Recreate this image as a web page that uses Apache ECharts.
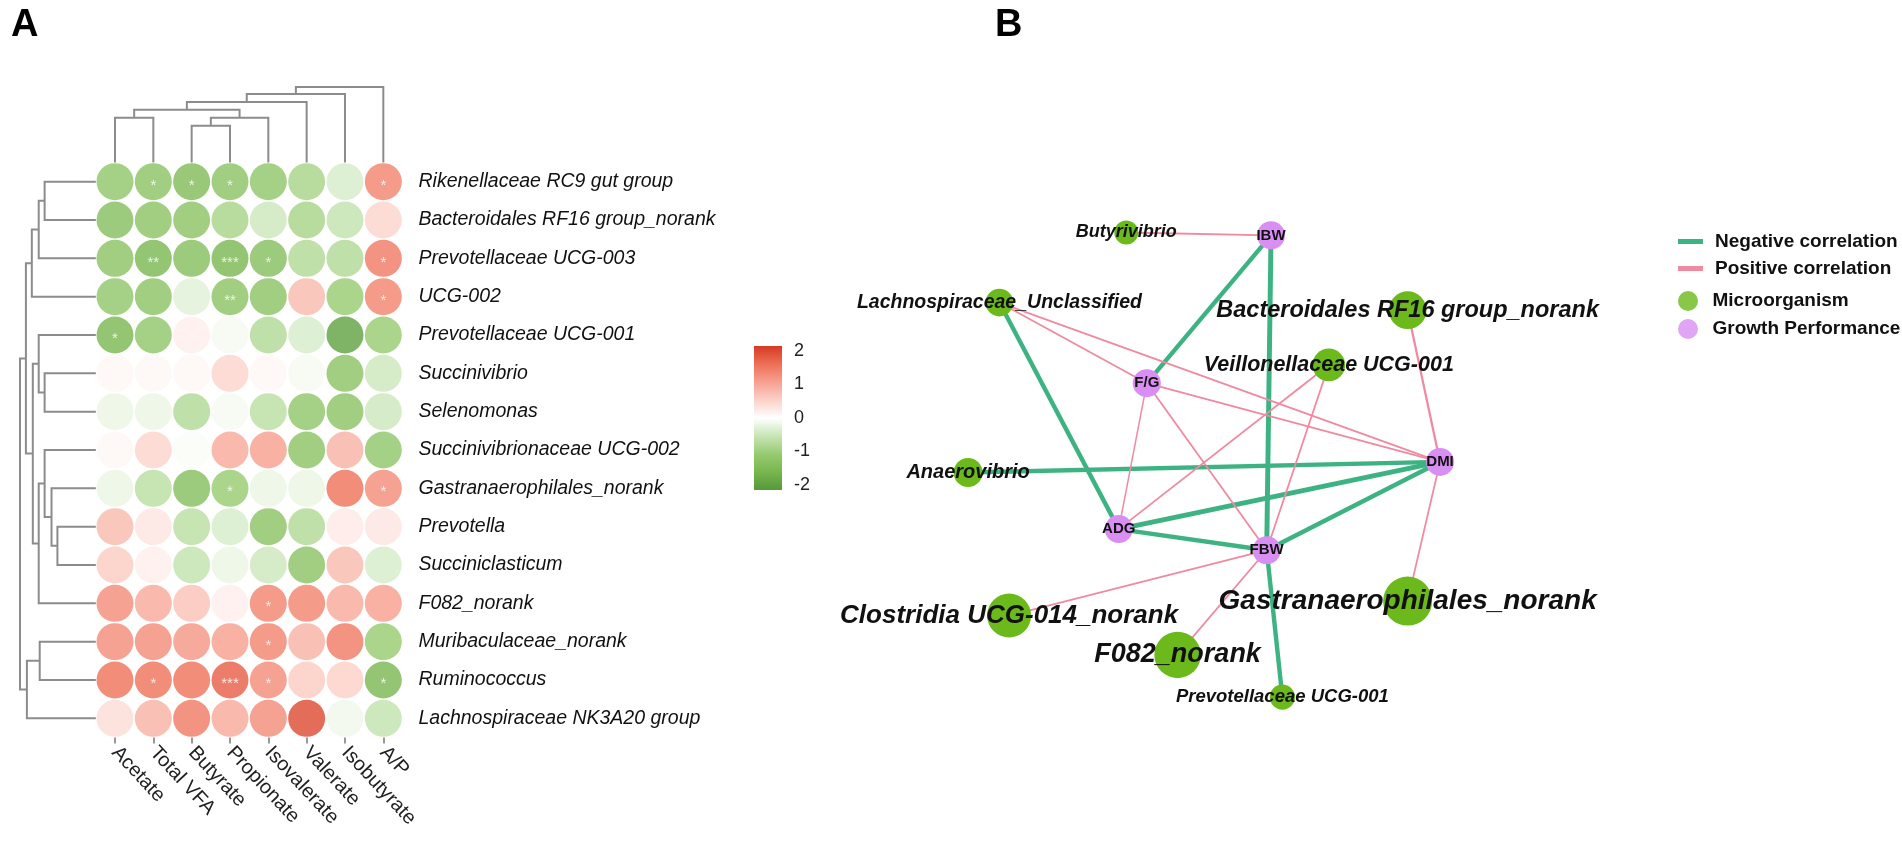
<!DOCTYPE html>
<html><head><meta charset="utf-8">
<script src="https://cdn.jsdelivr.net/npm/echarts@6/dist/echarts.min.js"></script>
<style>html,body{margin:0;padding:0;background:#fff}#c{width:1902px;height:843px}</style>
</head><body><div id="c"></div>
<script>
// ---------- Panel A data ----------
const columns = ['Acetate','Total VFA','Butyrate','Propionate','Isovalerate','Valerate','Isobutyrate','A/P'];
const taxa = ['Rikenellaceae RC9 gut group','Bacteroidales RF16 group_norank','Prevotellaceae UCG-003','UCG-002',
  'Prevotellaceae UCG-001','Succinivibrio','Selenomonas','Succinivibrionaceae UCG-002','Gastranaerophilales_norank',
  'Prevotella','Succiniclasticum','F082_norank','Muribaculaceae_norank','Ruminococcus','Lachnospiraceae NK3A20 group'];
const corr = [
  [-1.2,-1.3,-1.5,-1.3,-1.2,-0.9,-0.4, 1.4],
  [-1.4,-1.3,-1.3,-0.9,-0.5,-0.9,-0.6, 0.5],
  [-1.3,-1.6,-1.4,-1.6,-1.4,-0.8,-0.8, 1.5],
  [-1.2,-1.3,-0.3,-1.3,-1.3, 0.8,-1.1, 1.4],
  [-1.6,-1.2, 0.2,-0.1,-0.8,-0.4,-2.0,-1.1],
  [ 0.1, 0.1, 0.1, 0.5, 0.1,-0.1,-1.3,-0.5],
  [-0.2,-0.2,-0.8,-0.1,-0.7,-1.2,-1.3,-0.5],
  [ 0.1, 0.5,-0.05,1.0, 1.1,-1.3, 0.9,-1.2],
  [-0.2,-0.7,-1.4,-1.1,-0.2,-0.2, 1.6, 1.3],
  [ 0.8, 0.3,-0.7,-0.4,-1.3,-0.8, 0.25,0.3],
  [ 0.6, 0.2,-0.6,-0.2,-0.5,-1.3, 0.8,-0.4],
  [ 1.3, 1.0, 0.7, 0.2, 1.4, 1.4, 1.0, 1.1],
  [ 1.3, 1.3, 1.2, 1.1, 1.4, 0.9, 1.5,-1.1],
  [ 1.6, 1.6, 1.6, 1.8, 1.3, 0.6, 0.55,-1.6],
  [ 0.4, 0.9, 1.5, 1.0, 1.3, 2.0,-0.15,-0.6]
];
const stars = [
  ['','*','*','*','','','','*'],
  ['','','','','','','',''],
  ['','**','','***','*','','','*'],
  ['','','','**','','','','*'],
  ['*','','','','','','',''],
  ['','','','','','','',''],
  ['','','','','','','',''],
  ['','','','','','','',''],
  ['','','','*','','','','*'],
  ['','','','','','','',''],
  ['','','','','','','',''],
  ['','','','','*','','',''],
  ['','','','','*','','',''],
  ['','*','','***','*','','','*'],
  ['','','','','','','','']
];
// hclust-style merges: negative = leaf (1-based), positive = earlier merge (1-based); third = height
const colMerges = [[-3,-4,37],[-1,-2,45],[1,-5,45],[2,3,53],[4,-6,61],[5,-7,69],[6,-8,76]];
const rowMerges = [[-1,-2,52],[1,-3,58],[2,-4,65],[-6,-7,52],[-5,4,58],[-10,-11,39],[-9,6,45],[-8,7,52],
  [8,-12,58],[5,9,64],[3,10,71],[-13,-14,57],[12,-15,70],[11,13,77]];
const colorTicks = [-2,-1,0,1,2];
const colorRange = [-2.15, 2.15];
const colorStops = ['#55993a','#78b64f','#96cb70','#c8e5b5','#ffffff','#fcd0c8','#f6a08f','#ee6f57','#d63a22'];

// ---------- Panel B data ----------
const nodeNames = ['Butyrivibrio','IBW','Lachnospiraceae_Unclassified','Bacteroidales RF16 group_norank',
  'Veillonellaceae UCG-001','F/G','Anaerovibrio','DMI','ADG','FBW','Clostridia UCG-014_norank',
  'Gastranaerophilales_norank','F082_norank','Prevotellaceae UCG-001'];
const nodeKind = ['Microorganism','Growth Performance','Microorganism','Microorganism','Microorganism',
  'Growth Performance','Microorganism','Growth Performance','Growth Performance','Growth Performance',
  'Microorganism','Microorganism','Microorganism','Microorganism'];
const nodeX = [34.5,61.3,11.0,86.6,72.0,38.3,5.2,92.6,33.1,60.5,12.8,86.6,44.0,63.4];
const nodeY = [2.6,3.2,17.2,18.8,30.2,34.0,52.6,50.4,64.4,68.8,82.4,79.4,90.6,99.4];
const nodeWeight = [2,3,2.75,4.75,3.75,3,3,3,3,3,6,7,6.5,2.25];
const links = [
  ['IBW','FBW',-0.9],['IBW','F/G',-0.8],['Lachnospiraceae_Unclassified','ADG',-0.8],
  ['Anaerovibrio','DMI',-0.8],['ADG','DMI',-0.9],['FBW','DMI',-0.8],['ADG','FBW',-0.8],
  ['FBW','Prevotellaceae UCG-001',-0.8],
  ['Butyrivibrio','IBW',0.6],['Lachnospiraceae_Unclassified','F/G',0.6],['Lachnospiraceae_Unclassified','DMI',0.6],
  ['F/G','ADG',0.5],['F/G','FBW',0.6],['F/G','DMI',0.6],['Veillonellaceae UCG-001','ADG',0.6],
  ['Veillonellaceae UCG-001','FBW',0.6],['Bacteroidales RF16 group_norank','DMI',0.75],
  ['DMI','Gastranaerophilales_norank',0.6],['Clostridia UCG-014_norank','FBW',0.6],
  ['F082_norank','FBW',0.6]
];

// ---------- helpers ----------
function dendro(merges) {
  const pos = [], ht = [], segs = [];
  const get = k => k < 0 ? [(-k) - 1, 0] : [pos[k-1], ht[k-1]];
  merges.forEach(m => {
    const a = get(m[0]), b = get(m[1]);
    segs.push([a[0], a[1], b[0], b[1], m[2]]);
    pos.push((a[0] + b[0]) / 2); ht.push(m[2]);
  });
  return segs;
}
const colSegs = dendro(colMerges);
const rowSegs = dendro(rowMerges);
const dendroStyle = {stroke:'#8c8c8c', lineWidth:2, fill:null};

const heatData = [];
corr.forEach((row, r) => row.forEach((v, c) => heatData.push([c, r, v, stars[r][c]])));

const FONT = "'Liberation Sans', Arial, sans-serif";
const nodeData = nodeNames.map((n, i) => {
  const micro = nodeKind[i] === 'Microorganism';
  return {
    name: n, value: [nodeX[i], nodeY[i]], symbolSize: micro ? 14 + nodeWeight[i] * 5 : 28,
    itemStyle: {color: micro ? '#6cb91c' : '#d88ef2'},
    label: {show: true, position: 'inside', color: '#111', fontWeight: 'bold', fontFamily: FONT,
      fontStyle: micro ? 'italic' : 'normal', fontSize: micro ? 14 + nodeWeight[i] * 2 : 15}
  };
});
const linkData = links.map(l => ({source: l[0], target: l[1],
  lineStyle: {color: l[2] < 0 ? '#3db383' : '#ef8aa0', width: l[2] < 0 ? Math.abs(l[2]) * 5.5 : Math.abs(l[2]) * 3, opacity: 1, curveness: 0}}));

const chart = echarts.init(document.getElementById('c'), null, {renderer: 'canvas'});
const cellW = 38.33;
const hm = {left: 115 - cellW/2, top: 181.7 - cellW/2, width: cellW * 8, height: cellW * 15};

chart.setOption({
  animation: false,
  backgroundColor: '#fff',
  title: [
    {text: 'A', left: 6, top: 2, textStyle: {fontSize: 38, fontWeight: 'bold', fontFamily: FONT, color: '#000'}},
    {text: 'B', left: 990, top: 2, textStyle: {fontSize: 38, fontWeight: 'bold', fontFamily: FONT, color: '#000'}}
  ],
  grid: [
    {left: hm.left, top: hm.top, width: hm.width, height: hm.height},
    {left: hm.left, top: 87, width: hm.width, height: hm.top - 87},
    {left: 20, top: hm.top, width: 115 - cellW/2 - 20, height: hm.height},
    {left: 754, top: 346, width: 28, height: 144},
    {left: 940, top: 220, width: 540, height: 480}
  ],
  xAxis: [
    {type: 'category', gridIndex: 0, data: columns, position: 'bottom',
      axisLine: {show: false}, axisTick: {show: true, alignWithLabel: true, length: 6, lineStyle: {color: '#999', width: 2}},
      axisLabel: {rotate: -47, fontSize: 20, color: '#222', fontFamily: FONT, margin: 12}},
    {type: 'value', gridIndex: 1, min: -0.5, max: 7.5, show: false},
    {type: 'value', gridIndex: 2, min: 0, max: 77, inverse: true, show: false},
    {type: 'value', gridIndex: 3, min: 0, max: 1, show: false},
    {type: 'value', gridIndex: 4, min: 0, max: 100, show: false}
  ],
  yAxis: [
    {type: 'category', gridIndex: 0, data: taxa, inverse: true, position: 'right',
      axisLine: {show: false}, axisTick: {show: false},
      axisLabel: {fontSize: 19.5, fontStyle: 'italic', color: '#111', fontFamily: FONT, margin: 16}},
    {type: 'value', gridIndex: 1, min: 0, max: 76, show: false},
    {type: 'value', gridIndex: 2, min: -0.5, max: 14.5, inverse: true, show: false},
    {type: 'value', gridIndex: 3, min: colorRange[0], max: colorRange[1], position: 'right',
      axisLine: {show: false}, axisTick: {show: false}, splitLine: {show: false},
      axisLabel: {customValues: colorTicks, fontSize: 18, color: '#222', fontFamily: FONT, margin: 12}},
    {type: 'value', gridIndex: 4, min: 0, max: 100, inverse: true, show: false}
  ],
  visualMap: {type: 'continuous', show: false, seriesIndex: 0, dimension: 2,
    min: colorRange[0], max: colorRange[1], inRange: {color: colorStops}},
  legend: [
    {data: ['Negative correlation', 'Positive correlation'], orient: 'vertical', left: 1673, top: 227,
      icon: 'rect', itemWidth: 25, itemHeight: 5, itemGap: 8,
      textStyle: {fontSize: 19, fontWeight: 'bold', color: '#111', fontFamily: FONT, padding: [0,0,0,7]}},
    {data: ['Microorganism', 'Growth Performance'], orient: 'vertical', left: 1673, top: 286,
      icon: 'circle', itemWidth: 25, itemHeight: 20, itemGap: 8,
      textStyle: {fontSize: 19, fontWeight: 'bold', color: '#111', fontFamily: FONT, padding: [0,0,0,7]}}
  ],
  series: [
    {type: 'scatter', xAxisIndex: 0, yAxisIndex: 0, data: heatData, symbolSize: 37,
      label: {show: true, position: 'inside', formatter: p => p.data[3], color: '#fff', fontSize: 15,
        fontFamily: FONT, offset: [0, 4]}},
    {type: 'custom', xAxisIndex: 1, yAxisIndex: 1, data: colSegs, silent: true,
      renderItem: (params, api) => {
        const s = colSegs[params.dataIndex];
        return {type: 'polyline', shape: {points: [api.coord([s[0], s[1]]), api.coord([s[0], s[4]]),
          api.coord([s[2], s[4]]), api.coord([s[2], s[3]])]}, style: dendroStyle};
      }},
    {type: 'custom', xAxisIndex: 2, yAxisIndex: 2, data: rowSegs, silent: true,
      renderItem: (params, api) => {
        const s = rowSegs[params.dataIndex];
        return {type: 'polyline', shape: {points: [api.coord([s[1], s[0]]), api.coord([s[4], s[0]]),
          api.coord([s[4], s[2]]), api.coord([s[3], s[2]])]}, style: dendroStyle};
      }},
    {type: 'custom', xAxisIndex: 3, yAxisIndex: 3, data: [[0, colorRange[0], 1, colorRange[1]]], silent: true,
      renderItem: (params, api) => {
        const p0 = api.coord([api.value(0), api.value(1)]), p1 = api.coord([api.value(2), api.value(3)]);
        const stops = colorStops.map((c, i) => ({offset: i / (colorStops.length - 1), color: c}));
        return {type: 'rect', shape: {x: p0[0], y: p1[1], width: p1[0] - p0[0], height: p0[1] - p1[1]},
          style: {fill: new echarts.graphic.LinearGradient(0, 1, 0, 0, stops)}};
      }},
    {type: 'graph', coordinateSystem: 'cartesian2d', xAxisIndex: 4, yAxisIndex: 4, data: nodeData, links: linkData,
      symbol: 'circle', edgeSymbol: ['none', 'none'], silent: true, z: 3},
    {type: 'line', name: 'Negative correlation', data: [], xAxisIndex: 4, yAxisIndex: 4, color: '#3db383'},
    {type: 'line', name: 'Positive correlation', data: [], xAxisIndex: 4, yAxisIndex: 4, color: '#ef8aa0'},
    {type: 'scatter', name: 'Microorganism', data: [], xAxisIndex: 4, yAxisIndex: 4, color: '#6cb91c'},
    {type: 'scatter', name: 'Growth Performance', data: [], xAxisIndex: 4, yAxisIndex: 4, color: '#d88ef2'}
  ]
});
</script></body></html>
